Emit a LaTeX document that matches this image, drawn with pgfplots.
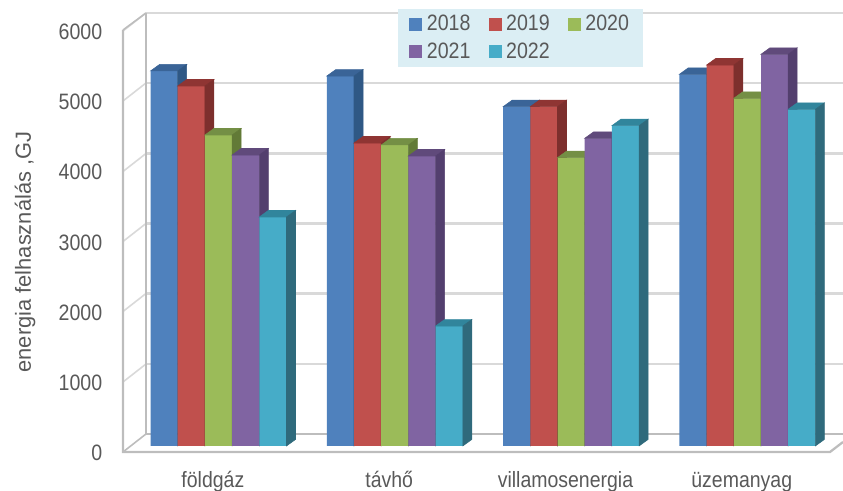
\documentclass[border=0pt]{standalone}
\usepackage{fontspec}
\setmainfont[FakeStretch=0.88]{Liberation Sans}
\newfontfamily\ylabfont{Liberation Sans}
\usepackage{pgfplots}
\usepackage{pgfplotstable}
\pgfplotsset{compat=1.18}

\definecolor{txt}{HTML}{595959}
\definecolor{gridc}{HTML}{D9D9D9}
\definecolor{framec}{HTML}{BDBDBD}
\definecolor{legbg}{HTML}{DBEEF4}
\definecolor{cA}{HTML}{4F81BD}\definecolor{cAt}{HTML}{3A6497}\definecolor{cAs}{HTML}{2F5885}
\definecolor{cB}{HTML}{C0504D}\definecolor{cBt}{HTML}{8F3533}\definecolor{cBs}{HTML}{7D2F2D}
\definecolor{cC}{HTML}{9BBB59}\definecolor{cCt}{HTML}{748F45}\definecolor{cCs}{HTML}{627A37}
\definecolor{cD}{HTML}{8064A2}\definecolor{cDt}{HTML}{604A7B}\definecolor{cDs}{HTML}{533F6E}
\definecolor{cE}{HTML}{46ACC8}\definecolor{cEt}{HTML}{31859C}\definecolor{cEs}{HTML}{2F6A7C}

% category 0..3, value in GJ
\pgfplotstableread{
0 5342
1 5270
2 4833
3 5295
}\tA
\pgfplotstableread{
0 5128
1 4316
2 4833
3 5427
}\tB
\pgfplotstableread{
0 4430
1 4288
2 4107
3 4953
}\tC
\pgfplotstableread{
0 4145
1 4131
2 4383
3 5580
}\tD
\pgfplotstableread{
0 3262
1 1709
2 4563
3 4796
}\tE

\pgfdeclareplotmark{nil}{}

% 1 px of the reference = 0.75pt; bar 20.4pt wide, depth 6.75pt x 4.875pt
\pgfplotsset{
  faces/.style n args={3}{
    forget plot, only marks, scatter, mark=nil, scatter src=y,
    visualization depends on={y \as \val},
    scatter/@pre marker code/.code={%
      \pgfmathsetmacro\hgt{\val*0.05265}%
      \fill[#2] (#1pt-10.2pt,0pt) -- (#1pt+10.2pt,0pt) -- ++(6.75pt,4.875pt) -- ++(-20.4pt,0pt) -- cycle;
      \fill[#3] (#1pt+10.2pt,0pt) -- ++(6.75pt,4.875pt) -- ++(0pt,-\hgt pt) -- (#1pt+10.2pt,-\hgt pt) -- cycle;
    },
    scatter/@post marker code/.code={},
  },
  front/.style n args={2}{ybar, bar width=20.4pt, bar shift=#1pt, fill=#2, draw=none},
}

\begin{document}
\begin{tikzpicture}
\path[use as bounding box, clip] (0,0) rectangle (632.25pt,368.25pt);

% walls and floor, in reference pixels
\begin{scope}[shift={(0pt,368.25pt)}, x=0.75pt, y=-0.75pt]
  \foreach \g in {13,83,153.5,223.5,293.5,364} {
    \draw[gridc, line width=1.7pt] (146,\g) -- (843,\g);
    \draw[gridc, line width=1.2pt] (123,\g+18) -- (146,\g);
  }
  \draw[framec, line width=1.2pt] (123,30) -- (146,13);
  \draw[framec, line width=1.5pt] (146,13) -- (146,434) -- (843,434);
  \draw[framec, line width=1.2pt] (123,452) -- (146,434);
  \draw[framec, line width=1.7pt] (123,30) -- (123,452) -- (830,452) -- (843,442);
  \node[txt, rotate=90, font=\ylabfont\fontsize{16.4pt}{18pt}\selectfont] at (25,252) {energia felhasználás ,GJ};
\end{scope}

\begin{axis}[
  at={(0pt,0pt)}, anchor=south west, scale only axis,
  width=632.25pt, height=368.25pt,
  xmin=-1.2394, xmax=3.5423, ymin=-641.03, ymax=6353.3,
  clip=false, clip mode=individual,
  axis line style={draw=none},
  tick style={draw=none},
  xtick={-0.032,0.968,1.968,2.968},
  xticklabels={földgáz,távhő,villamosenergia,üzemanyag},
  xtick pos=lower,
  ytick={0,1000,2000,3000,4000,5000,6000},
  ytick pos=left,
  /pgf/number format/assume math mode=true,
  /pgf/number format/1000 sep={},
  xticklabel style={anchor=base, yshift=2.25pt, text=txt, font=\fontsize{16.6pt}{20pt}\selectfont},
  yticklabel style={anchor=east, xshift=80.25pt, yshift=-5.25pt, text=txt, font=\fontsize{16.7pt}{20pt}\selectfont},
  legend columns=3,
  legend cell align=left,
  legend image code/.code={\fill[#1] (0pt,-4.875pt) rectangle (9.75pt,4.875pt);},
  legend style={
    at={(298.5pt,361.5pt)}, anchor=north west,
    fill=legbg, draw=none, text=txt,
    font=\fontsize{16.7pt}{20pt}\selectfont,
    inner xsep=8.25pt, inner ysep=2.5pt,
    /tikz/row sep=3.75pt,
    /tikz/every even column/.append style={column sep=11.5pt},
    /tikz/every odd column/.append style={column sep=1.5pt},
  },
]
  \addplot[front={-40.8}{cA}] table {\tA};
  \addlegendentry{2018}
  \addplot[faces={-40.8}{cAt}{cAs}] table {\tA};
  \addplot[front={-20.4}{cB}] table {\tB};
  \addlegendentry{2019}
  \addplot[faces={-20.4}{cBt}{cBs}] table {\tB};
  \addplot[front={0}{cC}] table {\tC};
  \addlegendentry{2020}
  \addplot[faces={0}{cCt}{cCs}] table {\tC};
  \addplot[front={20.4}{cD}] table {\tD};
  \addlegendentry{2021}
  \addplot[faces={20.4}{cDt}{cDs}] table {\tD};
  \addplot[front={40.8}{cE}] table {\tE};
  \addlegendentry{2022}
  \addplot[faces={40.8}{cEt}{cEs}] table {\tE};
\end{axis}
\end{tikzpicture}
\end{document}
